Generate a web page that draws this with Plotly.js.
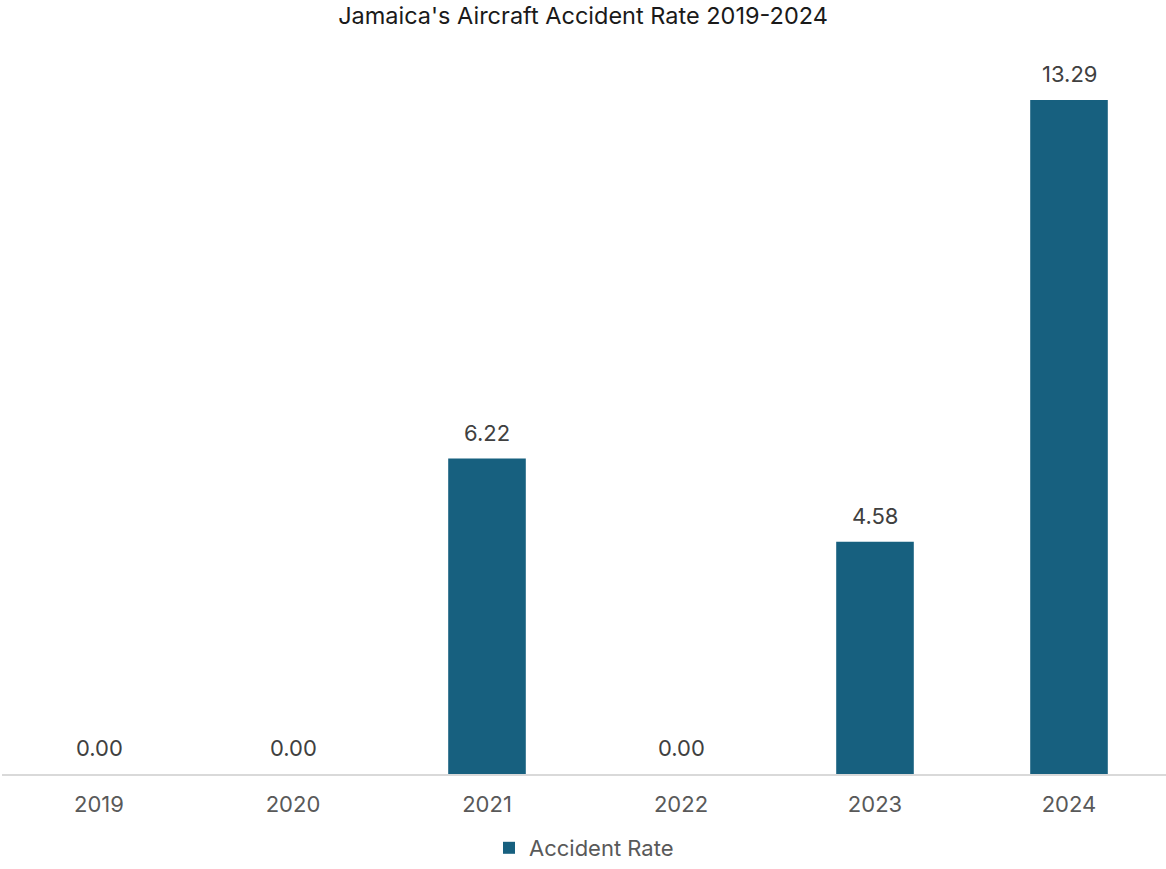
<!DOCTYPE html>
<html><head><meta charset="utf-8">
<script src="https://cdn.plot.ly/plotly-3.0.1.min.js"></script>
<style>html,body{margin:0;padding:0;background:#fff}#chart{width:1166px;height:869px}</style>
</head><body><div id="chart"></div>
<script>
const years = ['2019','2020','2021','2022','2023','2024'];
const accidentRate = [0.00, 0.00, 6.22, 0.00, 4.58, 13.29];
const seriesName = 'Accident Rate';
const chartTitle = "Jamaica's Aircraft Accident Rate 2019-2024";

const FONT = 'Inter, Roboto, "Open Sans", sans-serif';
const trace = {
  type: 'bar', x: years, y: accidentRate, name: seriesName,
  marker: {color: '#17607f'}, width: 0.4,
  hoverinfo: 'x+y'
};
const annotations = years.map((yr, i) => ({
  x: yr, y: accidentRate[i], xref: 'x', yref: 'y',
  text: accidentRate[i].toFixed(2), showarrow: false,
  yanchor: 'middle', yshift: 26,
  font: {family: FONT, size: 22, color: '#404040'}
}));
const layout = {
  width: 1166, height: 869,
  margin: {l: 2, r: 0, t: 64, b: 95},
  paper_bgcolor: '#fff', plot_bgcolor: '#fff',
  title: {text: chartTitle, font: {family: FONT, size: 23.5, color: '#1a1a1a'}, x: 0.5, xanchor: 'center', y: 0.982, yanchor: 'middle'},
  xaxis: {showline: true, linecolor: '#d9d9d9', linewidth: 2, ticks: '', showgrid: false,
          tickfont: {family: FONT, size: 22, color: '#595959'}, ticklabelstandoff: 10, automargin: false},
  yaxis: {visible: false, range: [0, 14], showgrid: false, zeroline: false},
  annotations: annotations,
  showlegend: true,
  legend: {orientation: 'h', x: 0.5, xanchor: 'center', yref: 'container', y: -0.006, yanchor: 'bottom',
           font: {family: FONT, size: 22, color: '#595959'}, itemwidth: 30},
  bargap: 0.6
};
Plotly.newPlot('chart', [trace], layout, {displayModeBar: false, staticPlot: true});
</script></body></html>
